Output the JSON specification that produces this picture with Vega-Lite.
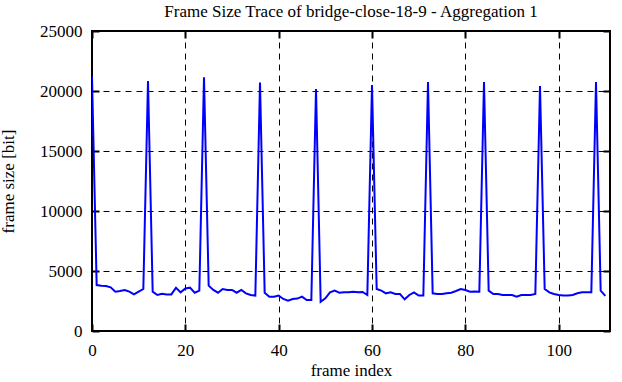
{
  "$schema": "https://vega.github.io/schema/vega-lite/v6.json",
  "width": 518,
  "height": 300,
  "autosize": {"type": "none"},
  "padding": {"left": 92, "top": 31, "right": 12, "bottom": 51},
  "background": "white",
  "title": {"text": "Frame Size Trace of bridge-close-18-9 - Aggregation 1", "font": "Liberation Serif", "fontSize": 17, "fontWeight": "normal", "color": "black", "offset": 1, "anchor": "middle"},
  "config": {
    "font": "Liberation Serif",
    "view": {"stroke": "black", "strokeWidth": 2},
    "style": {"guide-label": {"font": "Liberation Serif", "fontSize": 17, "fill": "black"}, "guide-title": {"font": "Liberation Serif", "fontSize": 17, "fill": "black"}},
    "axis": {"labelFont": "Liberation Serif", "titleFont": "Liberation Serif", "labelFontSize": 17, "titleFontSize": 17, "titleFontWeight": "normal", "labelColor": "black", "titleColor": "black", "domain": false, "tickColor": "black", "tickWidth": 2, "tickSize": -7, "gridColor": "black", "gridDash": [6, 5], "gridWidth": 1, "gridOpacity": 1, "labelFlush": false, "labelOverlap": false}
  },
  "data": {"values": [
    {"f":0,"v":21200},{"f":1,"v":3830},{"f":2,"v":3780},{"f":3,"v":3750},{"f":4,"v":3640},{"f":5,"v":3280},{"f":6,"v":3330},{"f":7,"v":3420},{"f":8,"v":3280},{"f":9,"v":3050},
    {"f":10,"v":3280},{"f":11,"v":3500},{"f":12,"v":20830},{"f":13,"v":3280},{"f":14,"v":3000},{"f":15,"v":3110},{"f":16,"v":3050},{"f":17,"v":3050},{"f":18,"v":3610},{"f":19,"v":3220},
    {"f":20,"v":3550},{"f":21,"v":3610},{"f":22,"v":3190},{"f":23,"v":3360},{"f":24,"v":21140},{"f":25,"v":3780},{"f":26,"v":3420},{"f":27,"v":3190},{"f":28,"v":3500},{"f":29,"v":3420},
    {"f":30,"v":3420},{"f":31,"v":3190},{"f":32,"v":3420},{"f":33,"v":3140},{"f":34,"v":3000},{"f":35,"v":2950},{"f":36,"v":20700},{"f":37,"v":3190},{"f":38,"v":2860},{"f":39,"v":2860},
    {"f":40,"v":2950},{"f":41,"v":2670},{"f":42,"v":2530},{"f":43,"v":2670},{"f":44,"v":2700},{"f":45,"v":2860},{"f":46,"v":2580},{"f":47,"v":2580},{"f":48,"v":20170},{"f":49,"v":2440},
    {"f":50,"v":2720},{"f":51,"v":3220},{"f":52,"v":3360},{"f":53,"v":3190},{"f":54,"v":3220},{"f":55,"v":3220},{"f":56,"v":3280},{"f":57,"v":3220},{"f":58,"v":3250},{"f":59,"v":3000},
    {"f":60,"v":20500},{"f":61,"v":3500},{"f":62,"v":3360},{"f":63,"v":3140},{"f":64,"v":3220},{"f":65,"v":3080},{"f":66,"v":3080},{"f":67,"v":2640},{"f":68,"v":3000},{"f":69,"v":3220},
    {"f":70,"v":2950},{"f":71,"v":2950},{"f":72,"v":20750},{"f":73,"v":3140},{"f":74,"v":3080},{"f":75,"v":3080},{"f":76,"v":3140},{"f":77,"v":3190},{"f":78,"v":3330},{"f":79,"v":3500},
    {"f":80,"v":3420},{"f":81,"v":3280},{"f":82,"v":3300},{"f":83,"v":3280},{"f":84,"v":20750},{"f":85,"v":3360},{"f":86,"v":3080},{"f":87,"v":3080},{"f":88,"v":3000},{"f":89,"v":3000},
    {"f":90,"v":3000},{"f":91,"v":2860},{"f":92,"v":3000},{"f":93,"v":3000},{"f":94,"v":3000},{"f":95,"v":3080},{"f":96,"v":20420},{"f":97,"v":3500},{"f":98,"v":3220},{"f":99,"v":3080},
    {"f":100,"v":3000},{"f":101,"v":2950},{"f":102,"v":2950},{"f":103,"v":3000},{"f":104,"v":3140},{"f":105,"v":3220},{"f":106,"v":3220},{"f":107,"v":3220},{"f":108,"v":20750},{"f":109,"v":3360},
    {"f":110,"v":2920}
  ]},
  "layer": [
    {
      "mark": {"type": "line", "color": "#0000ff", "strokeWidth": 2, "clip": true},
      "encoding": {
        "x": {"field": "f", "type": "quantitative", "scale": {"domain": [0, 111], "nice": false, "zero": false},
              "axis": {"orient": "bottom", "values": [0, 20, 40, 60, 80, 100], "format": "d", "labelFont": "Liberation Serif", "titleFont": "Liberation Serif", "title": "frame index", "labelPadding": 18, "titleY": 44, "titleBaseline": "alphabetic"}},
        "y": {"field": "v", "type": "quantitative", "scale": {"domain": [0, 25000], "nice": false},
              "axis": {"orient": "left", "values": [0, 5000, 10000, 15000, 20000, 25000], "format": "d", "labelFont": "Liberation Serif", "titleFont": "Liberation Serif", "title": "frame size [bit]", "labelPadding": 17, "titleX": -79, "titleBaseline": "alphabetic"}}
      }
    },
    {
      "mark": {"type": "line", "opacity": 0},
      "encoding": {
        "x": {"field": "f", "type": "quantitative", "scale": {"domain": [0, 111], "nice": false, "zero": false},
              "axis": {"orient": "top", "values": [0, 20, 40, 60, 80, 100], "labels": false, "title": null, "grid": false}},
        "y": {"field": "v", "type": "quantitative", "scale": {"domain": [0, 25000], "nice": false},
              "axis": {"orient": "right", "values": [0, 5000, 10000, 15000, 20000, 25000], "labels": false, "title": null, "grid": false}}
      }
    }
  ],
  "resolve": {"axis": {"x": "independent", "y": "independent"}}
}
